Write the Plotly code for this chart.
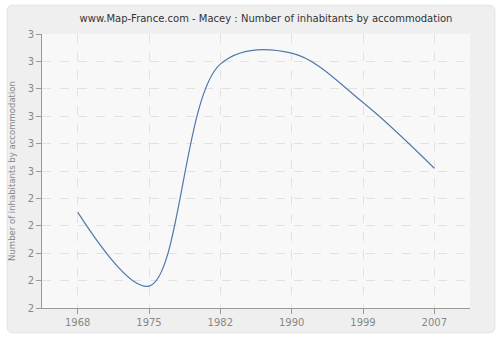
import plotly.graph_objects as go

years = ["1968", "1975", "1982", "1990", "1999", "2007"]
values = [2.35, 2.08, 2.89, 2.93, 2.75, 2.51]
ytick_vals = [2.0, 2.1, 2.2, 2.3, 2.4, 2.5, 2.6, 2.7, 2.8, 2.9, 3.0]
ytick_text = ["2", "2", "2", "2", "2", "3", "3", "3", "3", "3", "3"]

W, H = 500, 340
L, R, T, B = 40, 30, 34, 30
pw, ph = W - L - R, H - T - B

def px2paper(x, y):
    return (x - L) / pw, (H - B - y) / ph

fig = go.Figure()
fig.add_trace(go.Scatter(
    x=years, y=values, mode="lines",
    line=dict(color="#4f79ab", width=1.2, shape="spline", smoothing=1.0),
    hoverinfo="skip", showlegend=False,
))

# rounded panel
x0, y0 = px2paper(5, 335)
x1, y1 = px2paper(495, 5)
r = 6 / pw
ry = 6 / ph
path = (f"M {x0+r},{y0} L {x1-r},{y0} Q {x1},{y0} {x1},{y0+ry} "
        f"L {x1},{y1-ry} Q {x1},{y1} {x1-r},{y1} L {x0+r},{y1} "
        f"Q {x0},{y1} {x0},{y1-ry} L {x0},{y0+ry} Q {x0},{y0} {x0+r},{y0} Z")
fig.add_shape(type="path", path=path, xref="paper", yref="paper",
              fillcolor="#efefef", line=dict(color="#e2e2e2", width=1), layer="below")
# plot area background
fig.add_shape(type="rect", x0=0, x1=1, y0=0, y1=1, xref="paper", yref="paper",
              fillcolor="#f8f8f8", line=dict(width=0), layer="below")

font = "DejaVu Sans, Verdana, sans-serif"
fig.update_layout(
    width=W, height=H,
    margin=dict(l=L, r=R, t=T, b=B),
    paper_bgcolor="white",
    plot_bgcolor="#f8f8f8",
    title=dict(text="www.Map-France.com - Macey : Number of inhabitants by accommodation",
               x=266 / W, xanchor="center", y=1 - 18 / H, yanchor="middle",
               font=dict(family=font, size=10, color="#333333")),
    xaxis=dict(type="category", range=[-0.5, 5.5], showgrid=True,
               gridcolor="#e2e2e2", griddash="dash", gridwidth=1,
               showline=True, linecolor="#999999", linewidth=1,
               ticks="outside", ticklen=5, tickcolor="#999999",
               tickfont=dict(family=font, size=10, color="#888888"), zeroline=False),
    yaxis=dict(range=[2.0, 3.0], tickvals=ytick_vals, ticktext=ytick_text,
               showgrid=True, gridcolor="#e2e2e2", griddash="dash", gridwidth=1,
               showline=True, linecolor="#999999", linewidth=1,
               ticks="outside", ticklen=5, tickcolor="#999999",
               tickfont=dict(family=font, size=10, color="#888888"), zeroline=False,
               title=dict(text="Number of inhabitants by accommodation", standoff=10,
                          font=dict(family=font, size=8.5, color="#888888"))),
)
fig.write_html("out.html")
